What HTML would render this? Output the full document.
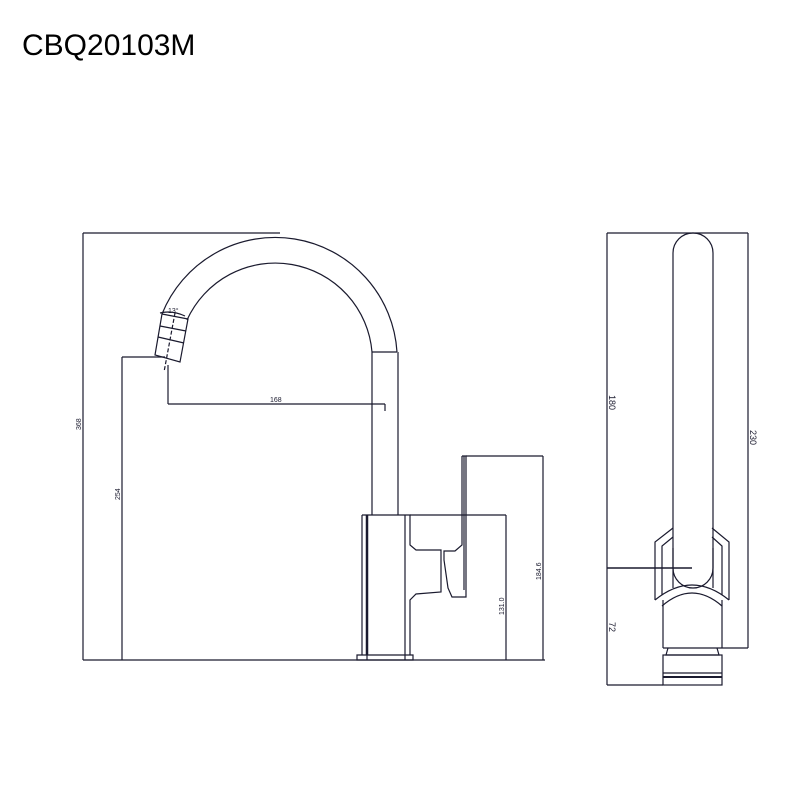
<!DOCTYPE html>
<html><head><style>body{margin:0;background:#fff}</style></head><body>
<svg width="800" height="800" xmlns="http://www.w3.org/2000/svg" style="display:block">
<text x="22" y="55" font-family="Liberation Sans, sans-serif" font-size="30" fill="#000">CBQ20103M</text>
<g fill="none" stroke="#1a1a2e" stroke-width="1.2">
<!-- left view dims -->
<line x1="83" y1="233" x2="280" y2="233"/>
<line x1="83" y1="233" x2="83" y2="660"/>
<line x1="83" y1="660" x2="545" y2="660"/>
<line x1="122" y1="357" x2="165" y2="357"/>
<line x1="122" y1="357" x2="122" y2="660"/>
<line x1="168" y1="365" x2="168" y2="404"/>
<line x1="168" y1="404" x2="385" y2="404"/>
<line x1="385" y1="404" x2="385" y2="411"/>
<line x1="410" y1="515" x2="506" y2="515"/>
<line x1="506" y1="515" x2="506" y2="660"/>
<line x1="466" y1="456" x2="543" y2="456"/>
<line x1="543" y1="456" x2="543" y2="660"/>
<!-- spout -->
<path d="M162,314 A122,122 0 0 1 397,352"/>
<path d="M187,320 A97,97 0 0 1 372,352"/>
<line x1="372" y1="352" x2="397" y2="352"/>
<line x1="372" y1="352" x2="372" y2="515"/>
<line x1="398" y1="352" x2="398" y2="515"/>
<polygon points="162,314 188,319 180,362 155,355"/>
<line x1="160" y1="326" x2="186" y2="331"/>
<line x1="158" y1="337" x2="184" y2="343"/>
<line x1="175" y1="313" x2="164" y2="372" stroke-dasharray="4,2"/>
<path d="M160,313 Q172,310 185,316"/>
<!-- body -->
<polyline points="362,515 410,515 410,545 416,550 441,550 441,592 416,594 410,600 410,655"/>
<line x1="362" y1="515" x2="362" y2="655"/>
<line x1="367" y1="515" x2="367" y2="655" stroke-width="2.5"/>
<line x1="405" y1="515" x2="405" y2="655"/>
<polygon points="357,655 413,655 413,660 357,660"/>
<line x1="367" y1="655" x2="367" y2="660"/>
<line x1="405" y1="655" x2="405" y2="660"/>
<polyline points="462,456 466,456 466,597 452,597 448,588 444,560 444,551 455,551 462,545 462,456"/>
<line x1="464" y1="456" x2="464" y2="590"/>
</g>
<g font-family="Liberation Sans, sans-serif" font-size="7" fill="#1a1a2e">
<text x="270" y="402">168</text>
<text x="168" y="313">13°</text>
<text transform="translate(81,430) rotate(-90)">368</text>
<text transform="translate(120,500) rotate(-90)">254</text>
<text transform="translate(504,615) rotate(-90)">131.0</text>
<text transform="translate(541,580) rotate(-90)">184.6</text>
<text transform="translate(609,395) rotate(90)" font-size="9">180</text>
<text transform="translate(750,430) rotate(90)" font-size="9">230</text>
<text transform="translate(609,622) rotate(90)" font-size="9">72</text>
</g>
<g fill="none" stroke="#1a1a2e" stroke-width="1.2">
<!-- right view -->
<line x1="607" y1="233" x2="748" y2="233"/>
<line x1="607" y1="233" x2="607" y2="685"/>
<line x1="607" y1="685" x2="663" y2="685"/>
<line x1="748" y1="233" x2="748" y2="648"/>
<line x1="722" y1="648" x2="748" y2="648"/>
<line x1="607" y1="568" x2="692" y2="568" stroke-width="1.6"/>
<path d="M673,588 L673,253 A20,20 0 0 1 713,253 L713,588"/>
<path d="M673,548 L673,568 A20,20 0 0 0 713,568 L713,548"/>
<polyline points="673,528 655,542 655,600"/>
<polyline points="712,528 729,542 729,600"/>
<polyline points="673,537 662,546 662,595"/>
<polyline points="712,537 722,546 722,595"/>
<path d="M655,600 Q692,570 729,600"/>
<path d="M662,606 Q692,580 722,606"/>
<line x1="663" y1="600" x2="663" y2="648"/>
<line x1="722" y1="600" x2="722" y2="648"/>
<line x1="663" y1="648" x2="722" y2="648"/>
<polyline points="668,648 666,655 719,655 717,648"/>
<rect x="663" y="655" width="59" height="30"/>
<line x1="663" y1="673" x2="722" y2="673"/>
<line x1="663" y1="677" x2="722" y2="677" stroke-width="2"/>
</g>
</svg>
</body></html>
